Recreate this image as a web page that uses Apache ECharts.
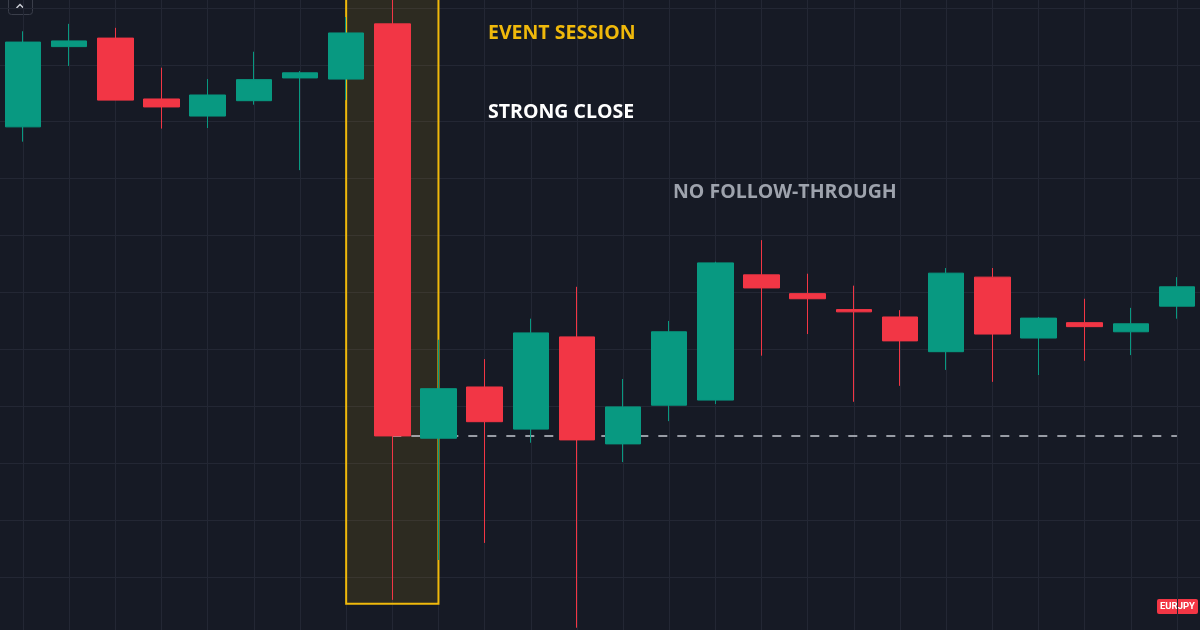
<!DOCTYPE html>
<html>
<head>
<meta charset="utf-8">
<script src="https://cdn.jsdelivr.net/npm/echarts@6/dist/echarts.min.js"></script>
<style>
html,body{margin:0;padding:0;background:#161a25;}
#chart{width:1200px;height:630px;}
</style>
</head>
<body>
<div id="chart"></div>
<script>
// ---- data (EURJPY, one candle per session) ----
const categories = ['S1','S2','S3','S4','S5','S6','S7','S8','S9','S10','S11','S12','S13','S14','S15','S16','S17','S18','S19','S20','S21','S22','S23','S24','S25','S26'];
const opens  = [160.891,161.032,161.047,160.940,160.910,160.937,160.977,160.975,161.072,160.344,160.434,160.360,160.522,160.334,160.402,160.411,160.631,160.598,160.570,160.557,160.496,160.627,160.520,160.547,160.531,160.576];
const closes = [161.040,161.042,160.938,160.926,160.947,160.974,160.986,161.056,160.348,160.431,160.373,160.529,160.341,160.399,160.531,160.652,160.608,160.589,160.566,160.515,160.634,160.527,160.555,160.540,160.545,160.610];
const lows   = [160.865,160.998,160.938,160.888,160.889,160.930,160.815,160.938,160.060,160.130,160.160,160.336,160.011,160.302,160.374,160.404,160.489,160.527,160.408,160.436,160.464,160.443,160.455,160.480,160.490,160.554];
const highs  = [161.059,161.072,161.065,160.995,160.975,161.023,160.989,161.084,161.118,160.517,160.483,160.554,160.610,160.448,160.550,160.654,160.692,160.633,160.612,160.569,160.643,160.643,160.557,160.589,160.573,160.627];
const eventIndex = 8;
const eventBoxStart = 7;
const eventBoxEnd = 9;
const eventBoxLow = 160.053;
const priceMin = 160.0;
const priceMax = 161.2;
const priceStep = 0.1;
const symbol = 'EURJPY';
const labels = ['EVENT SESSION', 'STRONG CLOSE', 'NO FOLLOW-THROUGH'];

// ---- build ----
const ohlc = categories.map((c, i) => [opens[i], closes[i], lows[i], highs[i]]);
const eventClose = closes[eventIndex];
const levelLine = categories.map((c, i) => i >= eventIndex ? eventClose : null);

const W = 1200;
const half = W / categories.length / 2;
const BG = '#161a25';
const GRID = '#232734';
const UP = '#089981';
const DOWN = '#f23645';
const FONT = '"Open Sans", "DejaVu Sans", sans-serif';

const chart = echarts.init(document.getElementById('chart'), null, {renderer: 'canvas'});
chart.setOption({
  animation: false,
  backgroundColor: BG,
  grid: [
    {left: 0, right: 0, top: -49, height: 683, containLabel: false, outerBoundsMode: 'none'},
    {left: half, right: half, top: 0, bottom: 0, containLabel: false, outerBoundsMode: 'none'}
  ],
  xAxis: [
    {
      type: 'category', gridIndex: 0,
      data: categories,
      boundaryGap: true,
      axisLine: {show: false}, axisTick: {show: false}, axisLabel: {show: false},
      splitLine: {show: false}
    },
    {
      type: 'category', gridIndex: 1,
      data: categories,
      boundaryGap: false,
      axisLine: {show: false}, axisTick: {show: false}, axisLabel: {show: false},
      splitLine: {show: true, interval: 0, lineStyle: {color: GRID, width: 1}}
    }
  ],
  yAxis: [
    {
      type: 'value', gridIndex: 0,
      min: priceMin, max: priceMax, interval: priceStep,
      axisLine: {show: false}, axisTick: {show: false}, axisLabel: {show: false},
      splitLine: {show: true, lineStyle: {color: GRID, width: 1}}
    },
    {
      type: 'value', gridIndex: 1,
      min: 0, max: 1,
      axisLine: {show: false}, axisTick: {show: false}, axisLabel: {show: false},
      splitLine: {show: false}
    }
  ],
  series: [
    {
      type: 'line',
      xAxisIndex: 0, yAxisIndex: 0,
      z: 1,
      data: levelLine,
      symbol: 'none',
      silent: true,
      lineStyle: {color: '#c3c7cf', width: 1.5, type: [9, 10]},
      markArea: {
        silent: true,
        itemStyle: {color: 'rgba(240,185,11,0.11)', borderColor: '#f0b90b', borderWidth: 2},
        data: [[
          {xAxis: categories[eventBoxStart], yAxis: eventBoxLow},
          {xAxis: categories[eventBoxEnd], yAxis: priceMax}
        ]]
      }
    },
    {
      type: 'candlestick',
      xAxisIndex: 0, yAxisIndex: 0,
      z: 3,
      data: ohlc,
      barWidth: 36,
      itemStyle: {
        color: UP, color0: DOWN,
        borderColor: UP, borderColor0: DOWN,
        borderWidth: 1
      }
    }
  ],
  graphic: [
    {type: 'text', left: 488, top: 23, z: 10, style: {text: labels[0], fill: '#f0b90b', font: 'bold 19.5px ' + FONT}},
    {type: 'text', left: 488, top: 102, z: 10, style: {text: labels[1], fill: '#ffffff', font: 'bold 19.5px ' + FONT}},
    {type: 'text', left: 673, top: 182, z: 10, style: {text: labels[2], fill: '#9ea3ad', font: 'bold 19.5px ' + FONT}},
    {type: 'rect', left: 8, top: -4, shape: {width: 24, height: 18, r: 3}, style: {fill: 'rgba(0,0,0,0)', stroke: '#3a3e4a', lineWidth: 1}},
    {type: 'polyline', shape: {points: [[16.5, 8], [20, 4.5], [23.5, 8]]}, style: {stroke: '#c9ccd3', lineWidth: 1.5, fill: null}},
    {type: 'group', left: 1157, top: 599, children: [
      {type: 'rect', shape: {x: 0, y: 0, width: 41, height: 15, r: 2}, style: {fill: DOWN}},
      {type: 'text', x: 20.5, y: 8, style: {text: symbol, fill: '#ffffff', font: 'bold 9.5px Roboto, "Open Sans", sans-serif', textAlign: 'center', textVerticalAlign: 'middle'}}
    ]}
  ]
});
</script>
</body>
</html>
